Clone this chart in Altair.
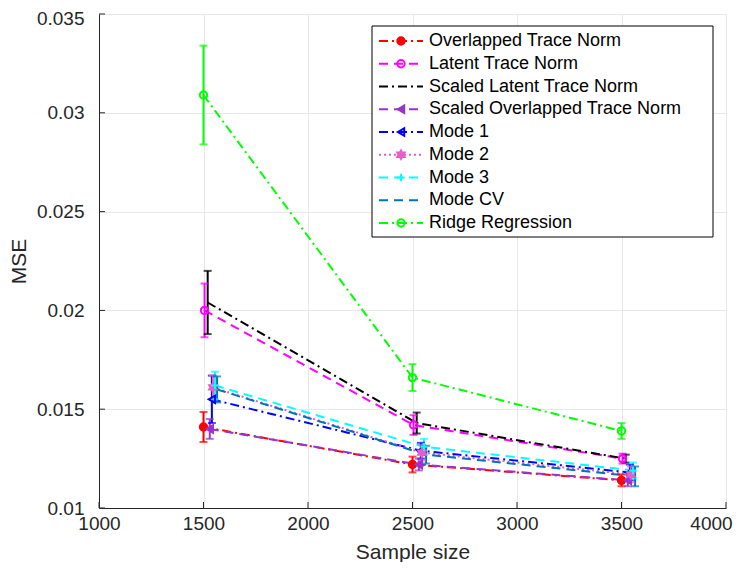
import altair as alt
import pandas as pd

# ---------------- data ----------------
series = [
    "Overlapped Trace Norm",
    "Latent Trace Norm",
    "Scaled Latent Trace Norm",
    "Scaled Overlapped Trace Norm",
    "Mode 1",
    "Mode 2",
    "Mode 3",
    "Mode CV",
    "Ridge Regression",
]
sample_sizes = [1500, 2500, 3500]
# small horizontal jitter used in the original figure
x_shift = [0, 5, 20, 30, 40, 45, 55, 65, 0]

mse = {
    "Overlapped Trace Norm":        [0.0141, 0.0122, 0.0114],
    "Latent Trace Norm":            [0.0200, 0.0142, 0.0125],
    "Scaled Latent Trace Norm":     [0.0204, 0.0143, 0.0125],
    "Scaled Overlapped Trace Norm": [0.0140, 0.0122, 0.0114],
    "Mode 1":                       [0.0155, 0.0129, 0.0118],
    "Mode 2":                       [0.0161, 0.0128, 0.0117],
    "Mode 3":                       [0.0162, 0.0131, 0.0119],
    "Mode CV":                      [0.0160, 0.0127, 0.0116],
    "Ridge Regression":             [0.0309, 0.0166, 0.0139],
}
err = {
    "Overlapped Trace Norm":        [0.00076, 0.00040, 0.00030],
    "Latent Trace Norm":            [0.00136, 0.00050, 0.00025],
    "Scaled Latent Trace Norm":     [0.00160, 0.00053, 0.00020],
    "Scaled Overlapped Trace Norm": [0.00050, 0.00030, 0.00030],
    "Mode 1":                       [0.00120, 0.00040, 0.00040],
    "Mode 2":                       [0.00060, 0.00040, 0.00040],
    "Mode 3":                       [0.00070, 0.00040, 0.00040],
    "Mode CV":                      [0.00066, 0.00045, 0.00050],
    "Ridge Regression":             [0.00250, 0.00068, 0.00040],
}
x_ticks = [1000, 1500, 2000, 2500, 3000, 3500, 4000]
y_ticks = [0.01, 0.015, 0.02, 0.025, 0.03, 0.035]
with_marker = ["Overlapped Trace Norm", "Latent Trace Norm",
               "Scaled Overlapped Trace Norm", "Mode 1", "Mode 2",
               "Mode 3", "Ridge Regression"]

# ---------------- styles ----------------
colors = ["#FF0000", "#FF00FF", "#000000", "#9933CC", "#0000FF",
          "#E65DCB", "#00FFFF", "#0072BD", "#00FF00"]
DASH = [9, 6]
DASHDOT = [9, 4, 2, 4]
DOT = [2, 3]
dashes = [DASHDOT, DASH, DASHDOT, DASH, DASHDOT, DOT, DASH, DASH, DASHDOT]
hexagram = "M0,-1.15L1,0.575L-1,0.575Z M0,1.15L-1,-0.575L1,-0.575Z"
plus = "M-1,0L1,0M0,-1L0,1"
shapes = ["circle", "circle", "circle", "triangle-left", "triangle-left",
          hexagram, plus, "circle", "circle"]
fills = ["#FF0000", "transparent", "transparent", "#9933CC", "transparent",
         "#E65DCB", "transparent", "transparent", "transparent"]

rows = []
for i, s in enumerate(series):
    for j, n in enumerate(sample_sizes):
        rows.append({
            "series": s,
            "x": n + x_shift[i],
            "mse": mse[s][j],
            "lo": mse[s][j] - err[s][j],
            "hi": mse[s][j] + err[s][j],
        })
df = pd.DataFrame(rows)

FONT = "Liberation Sans"
W, H = 627, 494

xs = alt.Scale(domain=[1000, 4000], nice=False, zero=False)
ys = alt.Scale(domain=[0.01, 0.035], nice=False, zero=False)

color_enc = alt.Color("series:N", scale=alt.Scale(domain=series, range=colors), legend=None)
dash_enc = alt.StrokeDash("series:N", scale=alt.Scale(domain=series, range=dashes), legend=None)
shape_enc = alt.Shape("series:N", scale=alt.Scale(domain=series, range=shapes), legend=None)
fill_enc = alt.Fill("series:N", scale=alt.Scale(domain=series, range=fills), legend=None)

base = alt.Chart(df)

lines = base.mark_line(strokeWidth=2).encode(
    x=alt.X("x:Q", scale=xs,
            axis=alt.Axis(values=x_ticks, format="d", title="Sample size",
                          grid=True, ticks=False, labelFlush=False,
                          labelOffset={"condition": {"test": "datum.value > 3999", "value": -15},
                                       "value": 0})),
    y=alt.Y("mse:Q", scale=ys,
            axis=alt.Axis(values=y_ticks, format="~g", title="MSE",
                          grid=True, ticks=False, labelFlush=False,
                          labelOffset={"condition": {"test": "datum.value > 0.034", "value": 4},
                                       "value": 0})),
    color=color_enc,
    strokeDash=dash_enc,
    order=alt.Order("x:Q"),
)

bars = base.mark_rule(strokeWidth=2).encode(
    x=alt.X("x:Q", scale=xs), y=alt.Y("lo:Q", scale=ys), y2="hi:Q", color=color_enc,
)
cap_lo = base.mark_tick(orient="horizontal", size=8, thickness=2).encode(
    x=alt.X("x:Q", scale=xs), y=alt.Y("lo:Q", scale=ys), color=color_enc,
)
cap_hi = base.mark_tick(orient="horizontal", size=8, thickness=2).encode(
    x=alt.X("x:Q", scale=xs), y=alt.Y("hi:Q", scale=ys), color=color_enc,
)
points = base.transform_filter(
    alt.FieldOneOfPredicate(field="series", oneOf=with_marker)
).mark_point(filled=False, strokeWidth=2, size=55, opacity=1).encode(
    x=alt.X("x:Q", scale=xs), y=alt.Y("mse:Q", scale=ys),
    color=color_enc, shape=shape_enc, fill=fill_enc,
)

# inward tick marks (MATLAB style)
xt = alt.Chart(pd.DataFrame({"v": x_ticks})).mark_rule(color="#262626").encode(
    x=alt.X("v:Q", scale=xs), y=alt.value(H), y2=alt.value(H - 6))
yt = alt.Chart(pd.DataFrame({"v": y_ticks})).mark_rule(color="#262626").encode(
    y=alt.Y("v:Q", scale=ys), x=alt.value(0), x2=alt.value(6))

main = alt.layer(lines, bars, cap_lo, cap_hi, points, xt, yt)

# ---------------- legend box ----------------
leg_df = pd.DataFrame({"series": series, "row": list(range(len(series)))})
leg_marker_df = leg_df[leg_df["series"].isin(with_marker)]
ly = alt.Y("row:Q", scale=alt.Scale(domain=[0, len(series) - 1], range=[27, 209],
                                    nice=False, zero=False), axis=None)

box = alt.Chart(pd.DataFrame({"k": [0]})).mark_rect(
    fill="white", stroke="black", strokeWidth=1
).encode(x=alt.value(273), x2=alt.value(614), y=alt.value(12), y2=alt.value(223))
leg_lines = alt.Chart(leg_df).mark_rule(strokeWidth=2).encode(
    x=alt.value(280), x2=alt.value(324), y=ly, color=color_enc, strokeDash=dash_enc)
leg_pts = alt.Chart(leg_marker_df).mark_point(filled=False, strokeWidth=2, size=55, opacity=1).encode(
    x=alt.value(302), y=ly, color=color_enc, shape=shape_enc, fill=fill_enc)
leg_txt = alt.Chart(leg_df).mark_text(
    align="left", baseline="middle", font=FONT, fontSize=18, color="black"
).encode(x=alt.value(330), y=ly, text="series:N")

legend = alt.layer(box, leg_lines, leg_pts, leg_txt)

chart = alt.layer(main, legend).resolve_scale(y="independent").properties(
    width=W, height=H,
    autosize=alt.AutoSizeParams(type="none"),
    padding={"left": 91, "top": 6, "right": 9, "bottom": 54},
).configure_view(strokeWidth=0).configure_axis(
    labelFont=FONT, titleFont=FONT, labelFontSize=19, titleFontSize=21,
    labelColor="#262626", titleColor="#262626", titleFontWeight="normal",
    domainColor="#262626", domainWidth=1, gridColor="#E8E8E8", gridWidth=1,
).configure_axisX(titlePadding=8, labelPadding=6).configure_axisY(
    titlePadding=7, labelPadding=15)

chart.save("out.html", embed_options={"renderer": "svg", "actions": False})
